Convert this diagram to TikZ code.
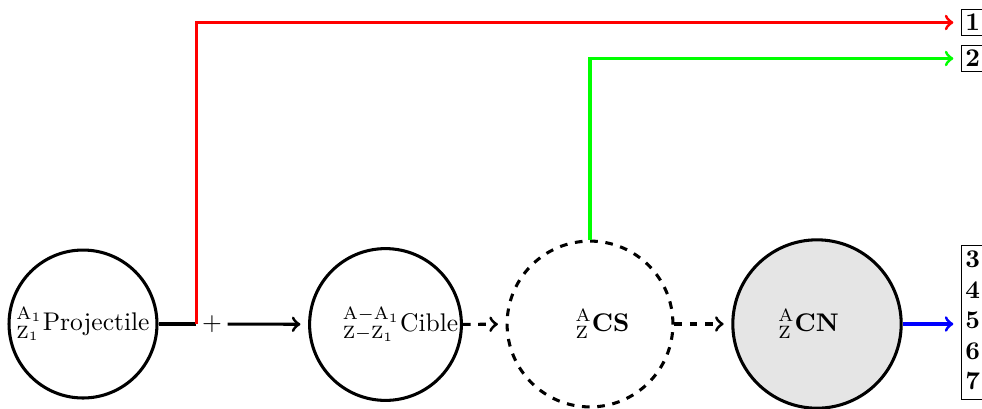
\documentclass[tikz,border=0pt]{standalone}
\begin{document}
\begin{tikzpicture}[x=0.392pt,y=-0.392pt,
  blk/.style={line width=1.2pt},
  ball/.style={circle, draw, line width=1.2pt, inner sep=0pt},
  lab/.style={inner sep=0pt},
  outbox/.style={draw, line width=0.4pt, anchor=west, inner xsep=1.5pt, align=left},
  arr/.style={->, line width=1.2pt, shorten >=3pt}]
\useasboundingbox (0,0) rectangle (982,408);
% particles
\node[ball, minimum size=58pt] (p) at (83,324) {${}^{\mathrm{A}_1}_{\mathrm{Z}_1}$Projectile};
\node[ball, minimum size=59.5pt] (cible) at (385.5,324.5) {};
\node[lab] (cibletxt) at (400.5,324.5) {${}^{\mathrm{A}-\mathrm{A}_1}_{\mathrm{Z}-\mathrm{Z}_1}$Cible};
\node[ball, dashed, minimum size=65pt] (cs) at (590,324) {};
\node[lab] (cstxt) at (602.5,324) {${}^{\mathrm{A}}_{\mathrm{Z}}$\textbf{CS}};
\node[ball, fill=gray!20, minimum size=66pt] (cn) at (817,324) {};
\node[lab] (cntxt) at (808.5,324) {${}^{\mathrm{A}}_{\mathrm{Z}}$\textbf{CN}};
\node[inner xsep=2pt] (plus) at (212,324) {+};
% output boxes
\node[outbox, text width=40pt, inner ysep=1.9pt] (b1) at (961,22.5) {\textbf{1}};
\node[outbox, text width=40pt, inner ysep=1.9pt] (b2) at (961,58.5) {\textbf{2}};
\node[outbox, inner ysep=0.3pt] (b3) at (961,322.5)
  {\begin{tabular}{@{}p{40pt}@{}}\textbf{3}\\\textbf{4}\\\textbf{5}\\\textbf{6}\\\textbf{7}\end{tabular}};
% connectors
\draw[blk] (p) -- (plus);
\draw[arr] (plus) -- (cible);
\draw[arr, dashed] (cible) -- (cs);
\draw[arr, dashed] (cs) -- (cn);
\draw[arr, red] (plus.west) |- (b1.west);
\draw[arr, green] (cs.north) |- (b2.west);
\draw[arr, blue] (cn.east) -- (cn.east -| b3.west);
\end{tikzpicture}
\end{document}
